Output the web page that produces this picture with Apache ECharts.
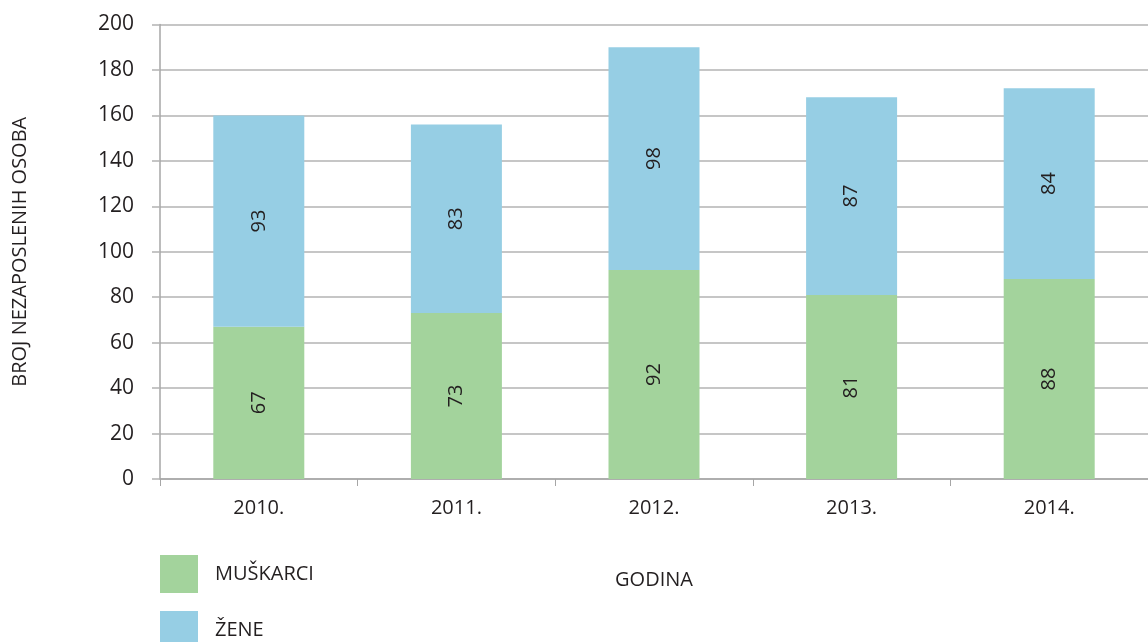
<!DOCTYPE html>
<html>
<head>
<meta charset="utf-8">
<script src="https://cdn.jsdelivr.net/npm/echarts@6/dist/echarts.min.js"></script>
<style>
html,body{margin:0;padding:0;background:#fff;}
#chart{width:1148px;height:642px;}
</style>
</head>
<body>
<div id="chart"></div>
<script>
const categories = ['2010.', '2011.', '2012.', '2013.', '2014.'];
const muskarci = [67, 73, 92, 81, 88];
const zene = [93, 83, 98, 87, 84];
const yTicks = { min: 0, max: 200, interval: 20 };
const seriesNames = ['MUŠKARCI', 'ŽENE'];
const yTitle = 'BROJ NEZAPOSLENIH OSOBA';
const xTitle = 'GODINA';

const FONT = 'Open Sans';
const TXT = '#231f20';
const chart = echarts.init(document.getElementById('chart'), null, { renderer: 'canvas' });

const labelStyle = {
  show: true,
  position: 'inside',
  rotate: 90,
  fontSize: 20,
  fontFamily: FONT,
  color: TXT
};

const legendCommon = {
  orient: 'vertical',
  left: 160,
  padding: 0,
  itemWidth: 38,
  itemHeight: 38,
  icon: 'rect',
  textStyle: { fontFamily: FONT, fontSize: 20, color: TXT, padding: [0, 0, 0, 12] }
};

chart.setOption({
  animation: false,
  backgroundColor: '#ffffff',
  grid: { left: 160, right: -2, top: 24.5, bottom: 163, containLabel: false },
  legend: [
    Object.assign({}, legendCommon, { top: 555, data: [seriesNames[0]] }),
    Object.assign({}, legendCommon, { top: 611, data: [seriesNames[1]] })
  ],
  xAxis: {
    type: 'category',
    data: categories,
    name: xTitle,
    nameLocation: 'middle',
    nameGap: 91,
    nameTextStyle: { fontFamily: FONT, fontSize: 20, color: TXT },
    axisLine: { show: true, lineStyle: { color: '#a6a6a6', width: 1.5 } },
    axisTick: { show: true, alignWithLabel: false, length: 7, lineStyle: { color: '#a6a6a6', width: 1 } },
    axisLabel: { fontFamily: FONT, fontSize: 20, color: TXT, margin: 19 },
    splitLine: { show: false }
  },
  yAxis: {
    type: 'value',
    min: yTicks.min,
    max: yTicks.max,
    interval: yTicks.interval,
    name: yTitle,
    nameLocation: 'middle',
    nameGap: 130,
    nameRotate: 90,
    nameTextStyle: { fontFamily: FONT, fontSize: 20, color: TXT },
    axisLine: { show: true, lineStyle: { color: '#a6a6a6', width: 1.5 } },
    axisTick: { show: true, length: 8, lineStyle: { color: '#b3b3b3', width: 1.5 } },
    axisLabel: { fontFamily: FONT, fontSize: 21, color: TXT, margin: 26 },
    splitLine: { show: true, lineStyle: { color: '#b3b3b3', width: 1.5 } }
  },
  series: [
    {
      name: seriesNames[0],
      type: 'bar',
      stack: 'total',
      barWidth: 91,
      data: muskarci,
      itemStyle: { color: '#a3d39c' },
      label: labelStyle
    },
    {
      name: seriesNames[1],
      type: 'bar',
      stack: 'total',
      barWidth: 91,
      data: zene,
      itemStyle: { color: '#96cee4' },
      label: labelStyle
    }
  ]
});
</script>
</body>
</html>
